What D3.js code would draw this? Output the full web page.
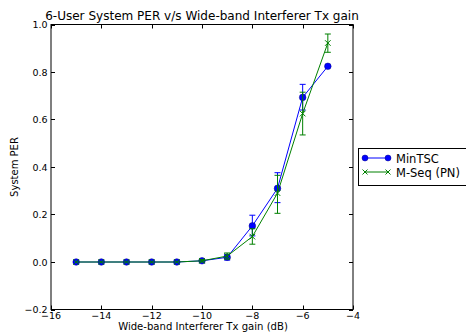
<!DOCTYPE html>
<html><head><meta charset="utf-8">
<script src="https://cdn.jsdelivr.net/npm/d3@7"></script>
<style>body{margin:0;background:#fff}svg{display:block}text{font-family:"DejaVu Sans",sans-serif;fill:#000}</style>
</head><body><svg id="c" width="466" height="332"></svg>
<script>
const gains = [-15,-14,-13,-12,-11,-10,-9,-8,-7,-6,-5];
const minTSC = [0,0,0,0,0,0.005,0.02,0.152,0.31,0.693,0.824];
const minTSCLo = [0,0,0,0,0,0,0.008,0.11,0.25,0.64,0.824];
const minTSCHi = [0,0,0,0,0,0.01,0.032,0.197,0.376,0.748,0.824];
const mseq = [0,0,0,0,0,0.005,0.025,0.107,0.29,0.625,0.922];
const mseqLo = [0,0,0,0,0,0,0.012,0.075,0.205,0.535,0.883];
const mseqHi = [0,0,0,0,0,0.01,0.038,0.14,0.365,0.715,0.96];
const xTicks = [-16,-14,-12,-10,-8,-6,-4];
const yTicks = [-0.2,0.0,0.2,0.4,0.6,0.8,1.0];
const seriesNames = ["MinTSC","M-Seq (PN)"];
const colors = ["#0000ff","#008000"];

const svg = d3.select("#c");
const L=51, R=353, T=24.5, B=309.5;
const x = d3.scaleLinear().domain([-16,-4]).range([L,R]);
const y = d3.scaleLinear().domain([-0.2,1.0]).range([B,T]);
const fmtMinus = s => s.replace("-", "\u2212");
function fitWidth(sel, w){ const n=sel.node(); const len=n.getComputedTextLength(); const fs=parseFloat(sel.attr("font-size")); sel.attr("font-size", fs*w/len); }

svg.append("rect").attr("x",L).attr("y",T).attr("width",R-L).attr("height",B-T)
  .attr("fill","none").attr("stroke","#000").attr("stroke-width",1);

const tl = 4;
xTicks.forEach(v=>{
  const px = Math.round(x(v))+0.5;
  svg.append("line").attr("x1",px).attr("x2",px).attr("y1",B).attr("y2",B-tl).attr("stroke","#000");
  svg.append("line").attr("x1",px).attr("x2",px).attr("y1",T).attr("y2",T+tl).attr("stroke","#000");
  svg.append("text").attr("x",x(v)).attr("y",318.5).attr("text-anchor","middle").attr("font-size",9.5)
    .text(fmtMinus(String(v)));
});
yTicks.forEach(v=>{
  const py = Math.round(y(v))+0.5;
  svg.append("line").attr("x1",L).attr("x2",L+tl).attr("y1",py).attr("y2",py).attr("stroke","#000");
  svg.append("line").attr("x1",R).attr("x2",R-tl).attr("y1",py).attr("y2",py).attr("stroke","#000");
  svg.append("text").attr("x",L-3.5).attr("y",y(v)+3.5).attr("text-anchor","end").attr("font-size",9.5)
    .text(fmtMinus(v.toFixed(1)));
});

fitWidth(svg.append("text").attr("x",202).attr("y",20).attr("text-anchor","middle").attr("font-size",12)
  .text("6-User System PER v/s Wide-band Interferer Tx gain"), 314);
fitWidth(svg.append("text").attr("x",203).attr("y",330).attr("text-anchor","middle").attr("font-size",10)
  .text("Wide-band Interferer Tx gain (dB)"), 170);
svg.append("text").attr("transform",`translate(17.5,${(T+B)/2}) rotate(-90)`).attr("text-anchor","middle").attr("font-size",10)
  .text("System PER");

const g = svg.append("g");
const line = d3.line().x(d=>x(d[0])).y(d=>y(d[1]));
const data = [
  {vals:minTSC, lo:minTSCLo, hi:minTSCHi, color:colors[0], marker:"circle"},
  {vals:mseq, lo:mseqLo, hi:mseqHi, color:colors[1], marker:"x"}
];
data.forEach(s=>{
  const pts = gains.map((gv,i)=>[gv,s.vals[i]]);
  g.append("path").attr("d",line(pts)).attr("fill","none").attr("stroke",s.color).attr("stroke-width",1);
  gains.forEach((gv,i)=>{
    if (s.hi[i]-s.lo[i] <= 0) return;
    const px=x(gv);
    g.append("line").attr("x1",px).attr("x2",px).attr("y1",y(s.lo[i])).attr("y2",y(s.hi[i])).attr("stroke",s.color);
    [s.lo[i],s.hi[i]].forEach(v=>g.append("line").attr("x1",px-3).attr("x2",px+3).attr("y1",y(v)).attr("y2",y(v)).attr("stroke",s.color));
  });
  pts.forEach(p=>{
    if (s.marker==="circle") {
      g.append("circle").attr("cx",x(p[0])).attr("cy",y(p[1])).attr("r",3.3).attr("fill",s.color).attr("stroke","#00008b").attr("stroke-width",0.5);
    } else {
      const px=x(p[0]), py=y(p[1]), r=2.8;
      g.append("path").attr("d",`M${px-r},${py-r}L${px+r},${py+r}M${px-r},${py+r}L${px+r},${py-r}`).attr("stroke",s.color).attr("stroke-width",1);
    }
  });
});

const lg = svg.append("g");
lg.append("rect").attr("x",358.5).attr("y",148.5).attr("width",120).attr("height",37).attr("fill","#fff").attr("stroke","#000");
seriesNames.forEach((n,i)=>{
  const yy = 158 + i*14;
  lg.append("line").attr("x1",365).attr("x2",388).attr("y1",yy).attr("y2",yy).attr("stroke",colors[i]);
  if (i===0) {
    [365,388].forEach(px=>lg.append("circle").attr("cx",px).attr("cy",yy).attr("r",3).attr("fill",colors[0]).attr("stroke","#00008b").attr("stroke-width",0.5));
  } else {
    [365,388].forEach(px=>lg.append("path").attr("d",`M${px-2.5},${yy-2.5}L${px+2.5},${yy+2.5}M${px-2.5},${yy+2.5}L${px+2.5},${yy-2.5}`).attr("stroke",colors[1]));
  }
  lg.append("text").attr("x",396).attr("y",yy+4.5).attr("font-size",11.5).text(n);
});
</script></body></html>
